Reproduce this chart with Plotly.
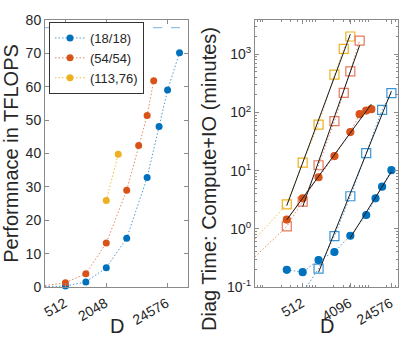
import numpy as np
import plotly.graph_objects as go
from plotly.subplots import make_subplots

# ---------------- data: left panel (performance) ----------------
D_blue = [256, 512, 1024, 2048, 4096, 8192, 12288, 16384, 24576]
P_blue = [0.1, 0.3, 1.5, 5.8, 14.6, 32.8, 48.1, 59.0, 70.2]
D_orange = [256, 512, 1024, 2048, 4096, 6144, 8192, 10240]
P_orange = [0.4, 1.3, 4.0, 13.2, 29.0, 42.4, 51.4, 61.8]
D_yellow = [2048, 3072]
P_yellow = [25.9, 39.8]
PEAK_TFLOPS = 77.7
series_names = ["(18/18)", "(54/54)", "(113,76)"]
left_xtick_vals = [512, 2048, 16384]
left_xtick_text = ["512", "2048", "24576"]
left_ytick_vals = [0, 10, 20, 30, 40, 50, 60, 70, 80]

# ---------------- data: right panel (diag time, minutes) ----------------
D_y_sq = [64, 256, 512, 1024, 2048, 3072, 4096]
T_y_sq = [0.67, 2.64, 13.7, 62, 447, 1240, 2023]
D_o_sq = [64, 256, 512, 1024, 2048, 3072, 4096, 6144]
T_o_sq = [0.33, 1.1, 2.94, 12.4, 70.8, 218, 510, 1726]
D_o_ci = [256, 512, 1024, 2048, 4096, 6144, 8192, 10240]
T_o_ci = [1.44, 3.35, 7.7, 17.8, 46, 93.5, 108, 114]
D_b_sq = [512, 1024, 2048, 4096, 8192, 16384, 24576]
T_b_sq = [0.08, 0.207, 0.75, 3.63, 20, 111, 215]
D_b_ci = [256, 512, 1024, 2048, 4096, 8192, 12288, 16384, 24576]
T_b_ci = [0.197, 0.18, 0.29, 0.40, 0.76, 1.73, 3.35, 5.3, 10.2]
# fit ranges (D min, D max) for the black power-law fit lines
fit_y_sq = (256, 4096)
fit_o_sq = (512, 6144)
fit_o_ci = (256, 10240)
fit_b_sq = (1024, 24576)
fit_b_ci = (4096, 24576)
right_xtick_vals = [512, 4096, 24576]
right_xtick_text = ["512", "4096", "24576"]
right_ytick_vals = [0.1, 1, 10, 100, 1000]
right_ytick_text = ["10<sup>-1</sup>", "10<sup>0</sup>", "10<sup>1</sup>",
                    "10<sup>2</sup>", "10<sup>3</sup>"]

BLUE = "#0072BD"
ORANGE = "#D95319"
YELLOW = "#EDB120"
BLUE_L = "rgba(0,114,189,0.7)"
ORANGE_L = "rgba(217,83,25,0.7)"
YELLOW_L = "rgba(237,177,32,0.85)"
AX = "#8a8a8a"
TXT = "#262626"
FONT = "Liberation Sans"
DOT = "1.5px,2px"

W, H = 399, 347
ML, MR, MT, MB = 45, 1, 20, 60
pw = W - ML - MR
ph = H - MT - MB

def px_x(p):
    return (p - ML) / pw

def px_y(p):
    return (H - MB - p) / ph

fig = make_subplots(rows=1, cols=2, horizontal_spacing=0.19)

# ---- left panel ----
for D, P, c, cl, name in [(D_blue, P_blue, BLUE, BLUE_L, series_names[0]),
                          (D_orange, P_orange, ORANGE, ORANGE_L, series_names[1]),
                          (D_yellow, P_yellow, YELLOW, YELLOW_L, series_names[2])]:
    fig.add_trace(go.Scatter(x=D, y=P, mode="lines+markers", name=name,
                             line=dict(color=cl, width=1, dash=DOT),
                             marker=dict(color=c, size=7, symbol="circle"),
                             cliponaxis=False), row=1, col=1)

fig.add_shape(type="line", xref="x domain", x0=0, x1=1, yref="y",
              y0=PEAK_TFLOPS, y1=PEAK_TFLOPS,
              line=dict(color="#7fb2de", width=1, dash="dash"), layer="below")

# ---- right panel ----
def dotted(D, T, c, cl, symbol, clip=False):
    filled = symbol == "circle"
    fig.add_trace(go.Scatter(
        x=D, y=T, mode="lines+markers", showlegend=False,
        line=dict(color=cl, width=1, dash=DOT),
        marker=dict(symbol=symbol if filled else "square-open",
                    size=7 if filled else 9, color=c,
                    line=dict(color=c, width=1.2)),
        cliponaxis=clip), row=1, col=2)

def fitline(D, T, rng):
    D = np.array(D, float)
    T = np.array(T, float)
    m = (D >= rng[0]) & (D <= rng[1])
    k, b = np.polyfit(np.log10(D[m]), np.log10(T[m]), 1)
    xs = np.array([rng[0], rng[1]], float)
    ys = 10 ** (k * np.log10(xs) + b)
    fig.add_trace(go.Scatter(x=xs, y=ys, mode="lines", showlegend=False,
                             line=dict(color="#1a1a1a", width=1)), row=1, col=2)

dotted(D_y_sq, T_y_sq, YELLOW, YELLOW_L, "square")
dotted(D_o_sq, T_o_sq, "#E8785A", ORANGE_L, "square")
dotted(D_o_ci, T_o_ci, ORANGE, ORANGE_L, "circle")
dotted(D_b_sq, T_b_sq, "#3a95d6", BLUE_L, "square", clip=True)
dotted(D_b_ci, T_b_ci, BLUE, BLUE_L, "circle")

fitline(D_y_sq, T_y_sq, fit_y_sq)
fitline(D_o_sq, T_o_sq, fit_o_sq)
fitline(D_o_ci, T_o_ci, fit_o_ci)
fitline(D_b_sq, T_b_sq, fit_b_sq)
fitline(D_b_ci, T_b_ci, fit_b_ci)

axis_common = dict(showline=True, linecolor=AX, linewidth=1, mirror="ticks",
                   ticks="inside", tickcolor=AX, showgrid=False, zeroline=False,
                   automargin=False,
                   tickfont=dict(family=FONT, size=14, color=TXT))
title_font = dict(family=FONT, size=20, color=TXT)

fig.update_xaxes(type="log", range=[np.log10(256), np.log10(32768)],
                 tickmode="array", tickvals=left_xtick_vals,
                 ticktext=left_xtick_text, tickangle=-30, ticklen=4,
                 ticklabelshift=-1, ticklabelstandoff=2,
                 **axis_common, row=1, col=1)
fig.update_yaxes(range=[0, 80], tickmode="array", tickvals=left_ytick_vals,
                 ticklen=4,
                 title=dict(text="Performnace in TFLOPS", font=title_font,
                            standoff=8),
                 **axis_common, row=1, col=1)

minor_x = [m * 10 ** e for e in range(1, 5) for m in range(2, 10)]
minor_y = [m * 10 ** e for e in range(-1, 4) for m in range(2, 10)]
fig.update_xaxes(type="log", range=[np.log10(64), np.log10(32768)],
                 tickmode="array", tickvals=right_xtick_vals,
                 ticktext=right_xtick_text, tickangle=-30, ticklen=4,
                 ticklabelshift=-1, ticklabelstandoff=2,
                 minor=dict(tickmode="array", tickvals=minor_x, ticks="inside",
                            ticklen=2, tickcolor=AX),
                 **axis_common, row=1, col=2)
fig.update_yaxes(type="log", range=[-1, 3.59], tickmode="array",
                 tickvals=right_ytick_vals, ticktext=right_ytick_text, ticklen=4,
                 minor=dict(tickmode="array", tickvals=minor_y, ticks="inside",
                            ticklen=2, tickcolor=AX),
                 **axis_common, row=1, col=2)

# axis titles placed as in the reference
fig.add_annotation(text="Diag Time: Compute+IO (minutes)", textangle=-90,
                   xref="paper", yref="paper", x=px_x(209), y=px_y(179),
                   xanchor="center", yanchor="middle", showarrow=False,
                   font=title_font)
for xc in (116.5, 326.5):
    fig.add_annotation(text="D", xref="paper", yref="paper",
                       x=px_x(xc), y=px_y(326), xanchor="center",
                       yanchor="middle", showarrow=False, font=title_font)

fig.update_layout(
    width=W, height=H,
    margin=dict(l=ML, r=MR, t=MT, b=MB),
    paper_bgcolor="white", plot_bgcolor="white",
    font=dict(family=FONT, size=14, color=TXT),
    showlegend=True,
    legend=dict(x=px_x(49), y=px_y(22), xanchor="left", yanchor="top",
                bgcolor="white", bordercolor="#333333", borderwidth=1,
                font=dict(family=FONT, size=13, color=TXT),
                tracegroupgap=0, itemwidth=30),
)
fig.update_xaxes(domain=[0.0, px_x(188)], row=1, col=1)
fig.update_xaxes(domain=[px_x(255), 1.0], row=1, col=2)

fig.write_html("out.html", config={"displayModeBar": False},
               post_script="document.body.style.margin='0px';"
                           "document.body.style.overflow='hidden';")
